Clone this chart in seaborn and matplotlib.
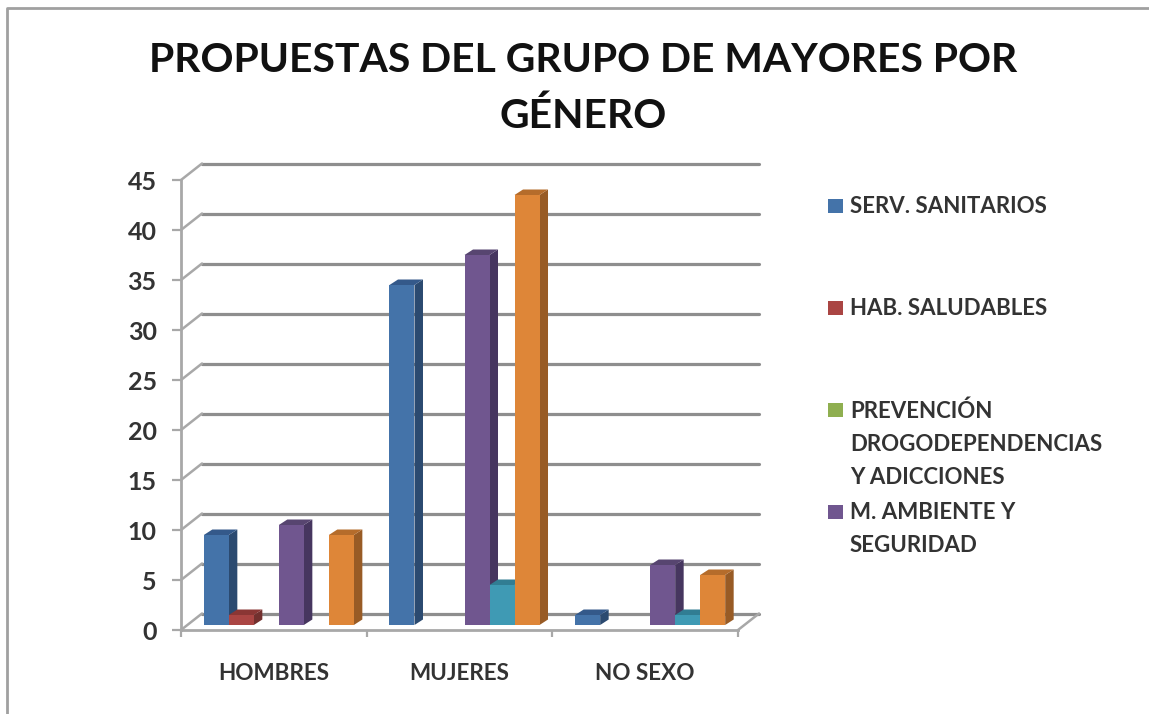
import matplotlib
matplotlib.use("Agg")
import matplotlib.pyplot as plt
from matplotlib.lines import Line2D
from matplotlib.patches import Polygon, Rectangle
from matplotlib.transforms import Affine2D, IdentityTransform
import numpy as np
import pandas as pd
import seaborn as sns

categories = ["HOMBRES", "MUJERES", "NO SEXO"]
series_names = ["SERV. SANITARIOS", "HAB. SALUDABLES", "PREVENCIÓN\nDROGODEPENDENCIAS\nY ADICCIONES",
                "M. AMBIENTE Y\nSEGURIDAD", "OTROS 1", "OTROS 2"]
serv_sanitarios = [9, 34, 1]
hab_saludables = [1, 0, 0]
prevencion = [0, 0, 0]
ambiente = [10, 37, 6]
teal_values = [0, 4, 1]
orange_values = [9, 43, 5]
y_ticks = [0, 5, 10, 15, 20, 25, 30, 35, 40, 45]

front_colors = ["#4473A9", "#AA4543", "#8FAF50", "#70568F", "#3F9AB4", "#DE8638"]
side_colors = ["#2B4A70", "#72302E", "#5F7535", "#46365F", "#2A687A", "#985B25"]
top_colors = ["#34598A", "#8A3634", "#759040", "#574570", "#317D93", "#B56C2B"]

W, H = 1149, 714
sns.set_theme(style="white")
plt.rcParams["font.family"] = ["Lato", "DejaVu Sans"]
plt.rcParams["font.weight"] = "bold"
text_col = "#333333"
grey = "#A8A8A8"
wall = "#8E8E8E"

rows = []
all_values = [serv_sanitarios, hab_saludables, prevencion, ambiente, teal_values, orange_values]
for name, vals in zip(series_names, all_values):
    for c, v in zip(categories, vals):
        rows.append({"cat": c, "serie": name, "value": v})
df = pd.DataFrame(rows)

fig = plt.figure(figsize=(W / 100, H / 100), dpi=100)
ax = fig.add_axes([181 / W, (H - 630) / H, 557 / W, 450 / H])
sns.barplot(data=df, x="cat", y="value", hue="serie", order=categories, hue_order=series_names,
            palette=front_colors, width=0.808, legend=False, saturation=1, ax=ax, zorder=5)
ax.set_xlim(-0.5, 2.5)
ax.set_ylim(0, 45)
ax.autoscale(False)
ax.patch.set_visible(False)
ax.set_xlabel("")
ax.set_ylabel("")

# front axes
for s in ["top", "right"]:
    ax.spines[s].set_visible(False)
for s in ["left", "bottom"]:
    ax.spines[s].set_color(grey)
    ax.spines[s].set_linewidth(2)
ax.set_yticks(y_ticks)
ax.set_xticks([0, 1, 2])
ax.set_xticks([-0.5, 0.5, 1.5, 2.5], minor=True)
ax.tick_params(axis="y", left=True, length=6.5, width=1.6, color=grey, pad=11, labelsize=18, labelcolor=text_col)
ax.tick_params(axis="x", which="major", bottom=False, length=0, pad=23.5, labelsize=16.2, labelcolor=text_col)
ax.tick_params(axis="x", which="minor", bottom=True, length=5, width=1.6, color=grey)

# back wall, drawn in pixels from the data scale
wall_dx, wall_dy = 21, 16.5
for t in y_ticks:
    x0, y0 = ax.transData.transform((-0.5, t))
    x1, _ = ax.transData.transform((2.5, t))
    ax.add_line(Line2D([x0 + wall_dx, x1 + wall_dx], [y0 + wall_dy, y0 + wall_dy], color=wall, lw=2.3,
                       transform=IdentityTransform(), clip_on=False, zorder=1))
    ax.add_line(Line2D([x0, x0 + wall_dx], [y0, y0 + wall_dy], color=grey, lw=1.8,
                       transform=IdentityTransform(), clip_on=False, zorder=1))
x1, y1 = ax.transData.transform((2.5, 0))
ax.add_line(Line2D([x1, x1 + wall_dx], [y1, y1 + wall_dy], color=grey, lw=1.8,
                   transform=IdentityTransform(), clip_on=False, zorder=1))

# bars sit a little inside the floor and get a side and a top face
shift_x, shift_y = 5, 5
depth_x, depth_y = 8.5, 5.5
bars = []
for i, cont in enumerate(ax.containers):
    for p in cont:
        bars.append((p.get_x(), i, p))
bars.sort(key=lambda b: b[0])
for n, (_, i, p) in enumerate(bars):
    if p.get_height() == 0:
        p.set_visible(False)
        continue
    p.set_transform(ax.transData + Affine2D().translate(shift_x, shift_y))
    p.set_clip_on(False)
    p.set_linewidth(0)
    z = 3 + n * 0.01
    p.set_zorder(z + 0.002)
    (xa, ya), (xb, yb) = ax.transData.transform([(p.get_x(), 0), (p.get_x() + p.get_width(), p.get_height())])
    xa, xb = xa + shift_x, xb + shift_x
    ya, yb = ya + shift_y, yb + shift_y
    ax.add_patch(Polygon([(xb, ya), (xb, yb), (xb + depth_x, yb + depth_y), (xb + depth_x, ya + depth_y)],
                         closed=True, fc=side_colors[i], ec="none", transform=IdentityTransform(),
                         clip_on=False, zorder=z))
    ax.add_patch(Polygon([(xa, yb), (xb, yb), (xb + depth_x, yb + depth_y), (xa + depth_x, yb + depth_y)],
                         closed=True, fc=top_colors[i], ec="none", transform=IdentityTransform(),
                         clip_on=False, zorder=z + 0.001))

# title
fig.text(583 / W, 1 - 60 / H, "PROPUESTAS DEL GRUPO DE MAYORES POR", ha="center", va="center",
         fontsize=29.4, fontweight="bold", color="#111111")
fig.text(583 / W, 1 - 116 / H, "GÉNERO", ha="center", va="center",
         fontsize=29.4, fontweight="bold", color="#111111")

# legend, only the first four entries fit in the box
legend_y = [206, 308, 410, 512]
for y, name, col in zip(legend_y, series_names[:4], front_colors[:4]):
    fig.add_artist(Rectangle((828 / W, 1 - (y + 7) / H), 15 / W, 14 / H, transform=fig.transFigure,
                             fc=col, ec="none"))
    fig.text(850 / W, 1 - (y - 10) / H, name, ha="left", va="top", fontsize=16, fontweight="bold",
             color=text_col, linespacing=1.72)

# outer frame
fig.add_artist(Line2D([7 / W, 7 / W, 1], [0, 1 - 8 / H, 1 - 8 / H], color="#A0A0A0", lw=2,
                      transform=fig.transFigure))

fig.savefig("out.png", dpi=100)
